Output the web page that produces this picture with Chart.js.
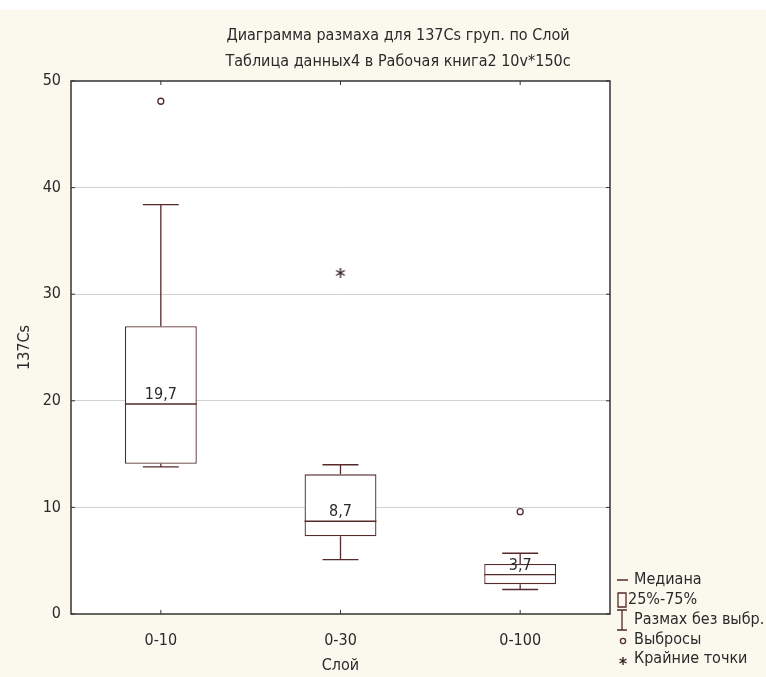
<!DOCTYPE html>
<html>
<head>
<meta charset="utf-8">
<script src="https://cdn.jsdelivr.net/npm/chart.js@4.4.0/dist/chart.umd.min.js"></script>
<style>
  html, body { margin: 0; padding: 0; background: #fbf8ee; }
  #wrap { width: 766px; height: 677px; }
</style>
</head>
<body>
<div id="wrap"><canvas id="box-chart" width="766" height="677"></canvas></div>
<script>
// values
const categories = ['0-10', '0-30', '0-100'];
const medians = [19.7, 8.7, 3.7];
const q1 = [14.1, 7.3, 2.8];
const q3 = [27.0, 13.1, 4.7];
const whiskerLow = [13.8, 5.1, 2.3];
const whiskerHigh = [38.4, 14.0, 5.7];
const outliers = [48.1, null, 9.6];
const extremes = [null, 32.0, null];
const yTicks = [0, 10, 20, 30, 40, 50];

const titleLines = ['Диаграмма размаха для 137Cs груп. по Слой', 'Таблица данных4 в Рабочая книга2 10v*150c'];
const legendItems = ['Медиана', '25%-75%', 'Размах без выбр.', 'Выбросы', 'Крайние точки'];

const FONT = "'Liberation Sans Narrow', 'Arial Narrow', 'DejaVu Sans Condensed', sans-serif";
const INK = '#552a2a';
const TXT = '#2a2a2a';

const fmt = (v) => v.toFixed(1).replace('.', ',');

// six-armed asterisk used for extreme points
function asteriskCanvas(size, color) {
  const c = document.createElement('canvas');
  c.width = size; c.height = size;
  const g = c.getContext('2d');
  const r = size / 2 - 1;
  g.strokeStyle = color;
  g.lineWidth = 1.4;
  g.beginPath();
  for (let k = 0; k < 3; k++) {
    const ang = Math.PI / 2 + k * Math.PI / 3;
    g.moveTo(size / 2 - r * Math.cos(ang), size / 2 - r * Math.sin(ang));
    g.lineTo(size / 2 + r * Math.cos(ang), size / 2 + r * Math.sin(ang));
  }
  g.stroke();
  return c;
}
const star = asteriskCanvas(12, '#3a2828');

// page background + white plot area
const backdrop = {
  id: 'backdrop',
  beforeDraw(chart) {
    const { ctx, chartArea: a } = chart;
    ctx.save();
    ctx.fillStyle = '#ffffff';
    ctx.fillRect(0, 0, chart.width, 10);
    ctx.fillStyle = '#fbf8ee';
    ctx.fillRect(0, 10, chart.width, chart.height - 10);
    ctx.fillStyle = '#ffffff';
    ctx.fillRect(a.left, a.top, a.right - a.left, a.bottom - a.top);
    ctx.restore();
  }
};

// whiskers, caps, medians and median labels
const boxParts = {
  id: 'boxParts',
  afterDatasetsDraw(chart) {
    const { ctx, scales: { x, y } } = chart;
    const meta = chart.getDatasetMeta(0);
    ctx.save();
    ctx.strokeStyle = INK;
    ctx.lineWidth = 1.3;
    categories.forEach((c, i) => {
      const cx = x.getPixelForValue(i);
      const half = meta.data[i].width / 2;
      const cap = half * 0.5;
      ctx.beginPath();
      ctx.moveTo(cx, y.getPixelForValue(q3[i]));
      ctx.lineTo(cx, y.getPixelForValue(whiskerHigh[i]));
      ctx.moveTo(cx - cap, y.getPixelForValue(whiskerHigh[i]));
      ctx.lineTo(cx + cap, y.getPixelForValue(whiskerHigh[i]));
      ctx.moveTo(cx, y.getPixelForValue(q1[i]));
      ctx.lineTo(cx, y.getPixelForValue(whiskerLow[i]));
      ctx.moveTo(cx - cap, y.getPixelForValue(whiskerLow[i]));
      ctx.lineTo(cx + cap, y.getPixelForValue(whiskerLow[i]));
      ctx.moveTo(cx - half, y.getPixelForValue(medians[i]));
      ctx.lineTo(cx + half, y.getPixelForValue(medians[i]));
      ctx.stroke();
      ctx.fillStyle = TXT;
      ctx.font = '16px ' + FONT;
      ctx.textAlign = 'center';
      ctx.textBaseline = 'bottom';
      ctx.fillText(fmt(medians[i]), cx, y.getPixelForValue(medians[i]) - 1);
    });
    ctx.restore();
  }
};

// frame, inward ticks, titles and legend
const frame = {
  id: 'frame',
  afterDraw(chart) {
    const { ctx, chartArea: a, scales: { x, y } } = chart;
    ctx.save();
    ctx.strokeStyle = '#333333';
    ctx.lineWidth = 1.5;
    ctx.strokeRect(a.left, a.top, a.right - a.left, a.bottom - a.top);
    ctx.lineWidth = 1;
    ctx.beginPath();
    yTicks.forEach((v) => {
      const py = y.getPixelForValue(v);
      ctx.moveTo(a.left, py); ctx.lineTo(a.left + 4, py);
      ctx.moveTo(a.right, py); ctx.lineTo(a.right - 4, py);
    });
    categories.forEach((c, i) => {
      const px = x.getPixelForValue(i);
      ctx.moveTo(px, a.bottom); ctx.lineTo(px, a.bottom - 4);
      ctx.moveTo(px, a.top); ctx.lineTo(px, a.top + 4);
    });
    ctx.stroke();

    ctx.fillStyle = TXT;
    ctx.font = '16px ' + FONT;
    ctx.textAlign = 'center';
    ctx.textBaseline = 'middle';
    ctx.fillText(titleLines[0], 398, 36);
    ctx.fillText(titleLines[1], 398, 62);

    // legend
    const lx = 622, tx = 634;
    const rows = [580, 600, 620, 640, 659];
    ctx.strokeStyle = INK;
    ctx.lineWidth = 1.3;
    ctx.beginPath();
    ctx.moveTo(lx - 5, rows[0]); ctx.lineTo(lx + 6, rows[0]);
    ctx.rect(lx - 4, rows[1] - 7, 8, 14);
    ctx.moveTo(lx, rows[2] - 10); ctx.lineTo(lx, rows[2] + 10);
    ctx.moveTo(lx - 5, rows[2] - 10); ctx.lineTo(lx + 5, rows[2] - 10);
    ctx.moveTo(lx - 5, rows[2] + 10); ctx.lineTo(lx + 5, rows[2] + 10);
    ctx.stroke();
    ctx.beginPath();
    ctx.arc(lx + 1, rows[3] + 1, 2.6, 0, Math.PI * 2);
    ctx.stroke();
    ctx.drawImage(asteriskCanvas(10, '#3a2828'), lx - 4, rows[4] - 3);
    ctx.fillStyle = TXT;
    ctx.font = '16px ' + FONT;
    ctx.textAlign = 'left';
    ctx.textBaseline = 'middle';
    legendItems.forEach((t, i) => ctx.fillText(t, i === 1 ? 628 : tx, rows[i]));
    ctx.restore();
  }
};

const ctx = document.getElementById('box-chart').getContext('2d');
new Chart(ctx, {
  type: 'bar',
  data: {
    labels: categories,
    datasets: [
      {
        data: categories.map((c, i) => [q1[i], q3[i]]),
        backgroundColor: '#ffffff',
        borderColor: INK,
        borderWidth: 1.3,
        borderSkipped: false,
        barPercentage: 0.4,
        categoryPercentage: 1,
        order: 2
      },
      {
        type: 'line',
        data: outliers,
        showLine: false,
        pointStyle: 'circle',
        pointRadius: 3,
        pointBorderWidth: 1.3,
        pointBorderColor: INK,
        pointBackgroundColor: '#ffffff',
        order: 1
      },
      {
        type: 'line',
        data: extremes,
        showLine: false,
        pointStyle: star,
        pointRadius: 6,
        order: 1
      }
    ]
  },
  options: {
    responsive: false,
    animation: false,
    layout: { padding: { top: 81, right: 156, bottom: 0, left: 0 } },
    plugins: { legend: { display: false }, tooltip: { enabled: false }, title: { display: false } },
    scales: {
      x: {
        grid: { display: false, drawTicks: false },
        border: { display: false },
        ticks: { color: TXT, font: { family: FONT, size: 16 }, padding: 17 },
        title: { display: true, text: 'Слой', color: TXT, font: { family: FONT, size: 16 }, padding: { top: 0, bottom: 2 } },
        afterFit(s) { s.height = 63; }
      },
      y: {
        min: 0,
        max: 50,
        afterBuildTicks(s) { s.ticks = yTicks.map((v) => ({ value: v })); },
        grid: {
          drawTicks: false,
          color: (c) => (c.tick && (c.tick.value === 0 || c.tick.value === 50)) ? 'rgba(0,0,0,0)' : '#d2d2d2'
        },
        border: { display: false },
        ticks: { color: TXT, font: { family: FONT, size: 16 }, padding: 10 },
        title: { display: true, text: '137Cs', color: TXT, font: { family: FONT, size: 16 }, padding: { top: 15, bottom: 0 } },
        afterFit(s) { s.width = 71; }
      }
    }
  },
  plugins: [backdrop, boxParts, frame]
});
</script>
</body>
</html>
